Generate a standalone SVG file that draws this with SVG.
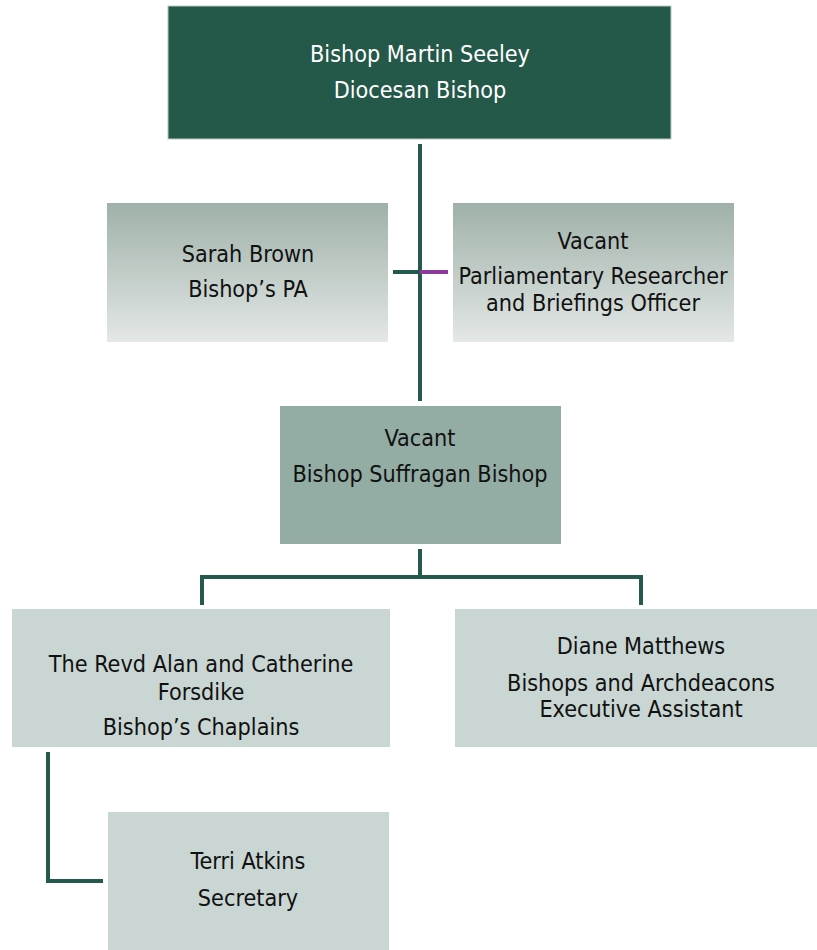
<svg xmlns="http://www.w3.org/2000/svg" width="817" height="950" viewBox="0 0 817 950">
<defs>
<linearGradient id="g1" x1="0" y1="0" x2="0" y2="1">
<stop offset="0" stop-color="#9fb1a9"/>
<stop offset="1" stop-color="#e3e7e5"/>
</linearGradient>
</defs>
<style>
text{font-family:"DejaVu Sans Condensed","DejaVu Sans",sans-serif;font-size:23.2px;text-anchor:middle;fill:#111}
.w{fill:#ffffff}
.c{fill:none;stroke:#245a4d;stroke-width:4}
.p{fill:none;stroke:#8b3a9b;stroke-width:4}
</style>
<rect width="817" height="950" fill="#ffffff"/>
<g id="connectors">
<line class="c" x1="420" y1="144" x2="420" y2="401"/>
<line class="c" x1="393" y1="272" x2="420" y2="272"/>
<line class="p" x1="420" y1="272" x2="448" y2="272"/>
<line class="c" x1="420" y1="549" x2="420" y2="577"/>
<polyline class="c" points="202,605 202,577 641,577 641,605"/>
<polyline class="c" points="48,752 48,881 103,881"/>
</g>
<g id="n1">
<rect x="168" y="6" width="503" height="133" fill="#245849" stroke="#b9c9c3" stroke-width="1"/>
<text class="w" x="420" y="62">Bishop Martin Seeley</text>
<text class="w" x="420" y="98">Diocesan Bishop</text>
</g>
<g id="n2">
<rect x="107" y="203" width="281" height="139" fill="url(#g1)"/>
<text x="248" y="262">Sarah Brown</text>
<text x="248" y="297">Bishop’s PA</text>
</g>
<g id="n3">
<rect x="453" y="203" width="281" height="139" fill="url(#g1)"/>
<text x="593" y="249">Vacant</text>
<text x="593" y="284">Parliamentary Researcher</text>
<text x="593" y="311">and Briefings Officer</text>
</g>
<g id="n4">
<rect x="280" y="406" width="281" height="138" fill="#93ada4"/>
<text x="420" y="446">Vacant</text>
<text x="420" y="482">Bishop Suffragan Bishop</text>
</g>
<g id="n5">
<rect x="12" y="609" width="378" height="138" fill="#c9d6d3"/>
<text x="201" y="672">The Revd Alan and Catherine</text>
<text x="201" y="700">Forsdike</text>
<text x="201" y="735">Bishop’s Chaplains</text>
</g>
<g id="n6">
<rect x="455" y="609" width="373" height="138" fill="#c9d6d3"/>
<text x="641" y="654">Diane Matthews</text>
<text x="641" y="691">Bishops and Archdeacons</text>
<text x="641" y="717">Executive Assistant</text>
</g>
<g id="n7">
<rect x="108" y="812" width="281" height="138" fill="#c9d6d3"/>
<text x="248" y="869">Terri Atkins</text>
<text x="248" y="906">Secretary</text>
</g>
</svg>
